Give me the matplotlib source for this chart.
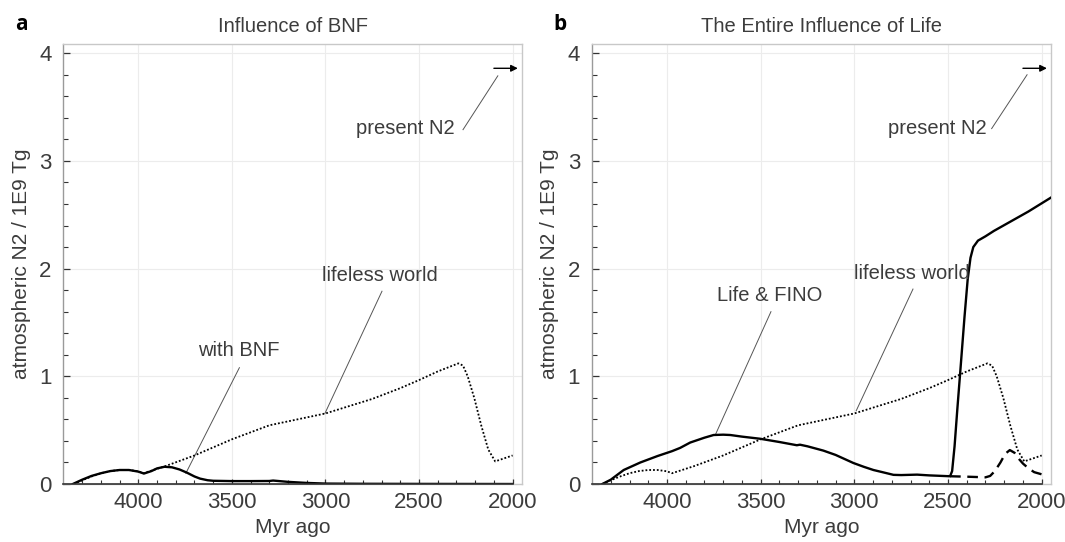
import matplotlib
matplotlib.use("Agg")
import matplotlib.pyplot as plt
from matplotlib.ticker import MultipleLocator, FixedLocator

plt.rcParams['font.family'] = ['Liberation Sans', 'DejaVu Sans']

TXT = '#3c3c3c'

# ---------------- data ----------------
# lifeless world (dotted), both panels
lifeless_x = [4345, 4300, 4250, 4200, 4150, 4100, 4050, 4000, 3973, 3857, 3700, 3500,
              3300, 3000, 2750, 2600, 2500, 2400, 2290, 2265, 2240, 2205, 2167, 2130,
              2093, 2000]
lifeless_y = [0.0, 0.035, 0.07, 0.10, 0.12, 0.13, 0.13, 0.118, 0.10, 0.165, 0.265, 0.415,
              0.545, 0.655, 0.79, 0.89, 0.965, 1.045, 1.12, 1.10, 1.0, 0.80, 0.54, 0.32,
              0.21, 0.265]

# panel a: with BNF (solid)
bnf_x = [4350, 4300, 4250, 4200, 4150, 4100, 4050, 4000, 3970, 3930, 3900, 3860, 3820,
         3780, 3740, 3700, 3670, 3630, 3600, 3500, 3400, 3300, 3280, 3200, 3100, 3000,
         2800, 2500, 2000]
bnf_y = [0.0, 0.04, 0.075, 0.10, 0.12, 0.13, 0.13, 0.115, 0.097, 0.12, 0.145, 0.16, 0.155,
         0.135, 0.105, 0.07, 0.05, 0.035, 0.03, 0.027, 0.027, 0.028, 0.032, 0.02, 0.01,
         0.004, 0.002, 0.001, 0.0]

# panel b: Life & FINO (solid)
fino_x = [4345, 4300, 4231, 4142, 4050, 3973, 3930, 3876, 3800, 3751, 3700, 3662, 3600,
          3502, 3400, 3307, 3290, 3250, 3165, 3100, 3005, 2950, 2898, 2850, 2791, 2750,
          2665, 2600, 2489, 2478, 2465, 2450, 2432, 2412, 2395, 2380, 2365, 2340, 2300,
          2255, 2163, 2071, 1950]
fino_y = [0.0, 0.04, 0.13, 0.20, 0.26, 0.305, 0.335, 0.385, 0.43, 0.455, 0.458, 0.455,
          0.44, 0.42, 0.39, 0.36, 0.365, 0.35, 0.31, 0.27, 0.195, 0.16, 0.13, 0.11, 0.085,
          0.083, 0.087, 0.08, 0.072, 0.12, 0.35, 0.70, 1.10, 1.55, 1.90, 2.10, 2.20, 2.26,
          2.30, 2.35, 2.44, 2.53, 2.66]

# panel b: dashed branch
dash_x = [2489, 2400, 2300, 2275, 2250, 2220, 2195, 2170, 2145, 2120, 2100, 2070, 2040, 2000]
dash_y = [0.072, 0.068, 0.062, 0.075, 0.12, 0.20, 0.28, 0.315, 0.29, 0.23, 0.19, 0.145,
          0.11, 0.09]

present_n2 = 3.86

xticks = [4000, 3500, 3000, 2500, 2000]
yticks = [0, 1, 2, 3, 4]

fig = plt.figure(figsize=(10.65, 5.42), dpi=100)
ax_a = fig.add_axes([0.0596, 0.107, 0.4305, 0.8127])
ax_b = fig.add_axes([0.5559, 0.107, 0.4310, 0.8127])


def style(ax, title):
    ax.set_xlim(4400, 1950)
    ax.set_ylim(0, 4.09)
    ax.xaxis.set_major_locator(FixedLocator(xticks))
    ax.xaxis.set_minor_locator(FixedLocator(list(range(4300, 1999, -100))))
    ax.yaxis.set_major_locator(FixedLocator(yticks))
    ax.yaxis.set_minor_locator(MultipleLocator(0.2))
    ax.grid(True, which='major', color='#ececec', lw=0.8, zorder=0)
    ax.set_axisbelow(True)
    ax.tick_params(axis='both', which='both', direction='in', colors='#333333',
                   labelcolor=TXT, labelsize=16, top=False, right=False)
    ax.tick_params(axis='x', which='major', length=3.6, width=0.9, pad=5.5)
    ax.tick_params(axis='x', which='minor', length=3.0, width=0.8)
    ax.tick_params(axis='y', which='major', length=5.0, width=0.9, pad=8.5)
    ax.tick_params(axis='y', which='minor', length=3.6, width=0.8)
    for s in ax.spines.values():
        s.set_color('#c8c8c8')
        s.set_linewidth(1.0)
    ax.spines['left'].set_color('#9a9a9a')
    ax.axhline(0, xmin=0, xmax=(4400 - 2000) / (4400 - 1950), color='#333333',
               lw=1.2, clip_on=False, zorder=4)
    ax.set_xlabel('Myr ago', fontsize=15, color=TXT)
    ax.xaxis.set_label_coords(0.5, -0.078)
    ax.set_ylabel('atmospheric N2 / 1E9 Tg', fontsize=15, color=TXT)
    ax.yaxis.set_label_coords(-0.071, 0.5)
    ax.set_title(title, fontsize=14.5, color=TXT, y=1.0268, pad=0)
    # present N2 arrow
    ax.annotate('', xy=(1972, present_n2), xytext=(2100, present_n2),
                arrowprops=dict(arrowstyle='-|>', color='black', lw=1.0,
                                mutation_scale=10, shrinkA=0, shrinkB=0))


def label(ax, text, tx, ty, lx0, ly0, lx1, ly1, ha='center'):
    ax.text(tx, ty, text, ha=ha, va='center', fontsize=14.5, color=TXT)
    ax.plot([lx0, lx1], [ly0, ly1], color='#555555', lw=0.7, zorder=2)


DOT = (0, (1, 1.1))

# panel a
style(ax_a, 'Influence of BNF')
ax_a.plot(lifeless_x, lifeless_y, color='black', lw=1.3, ls=DOT, zorder=3)
ax_a.plot(bnf_x, bnf_y, color='black', lw=1.7, zorder=3)
label(ax_a, 'present N2', 2312, 3.30, 2265, 3.29, 2079, 3.79, ha='right')
label(ax_a, 'lifeless world', 2708, 1.94, 2698, 1.79, 3003, 0.655)
label(ax_a, 'with BNF', 3462, 1.24, 3460, 1.08, 3746, 0.10)

# panel b
style(ax_b, 'The Entire Influence of Life')
ax_b.plot(lifeless_x, lifeless_y, color='black', lw=1.3, ls=DOT, zorder=3)
ax_b.plot(dash_x, dash_y, color='black', lw=1.7, ls=(0, (4.5, 2.8)), zorder=3)
ax_b.plot(fino_x, fino_y, color='black', lw=1.7, zorder=3)
label(ax_b, 'present N2', 2292, 3.30, 2267, 3.30, 2078, 3.80, ha='right')
label(ax_b, 'Life & FINO', 3453, 1.75, 3445, 1.60, 3741, 0.46)
label(ax_b, 'lifeless world', 2695, 1.95, 2687, 1.81, 2990, 0.68)

fig.text(15.5 / 1065, 1 - 30 / 542, 'a', fontsize=15, fontweight='bold',
         family=['Open Sans', 'DejaVu Sans'], va='baseline', ha='left', color='black')
fig.text(553.5 / 1065, 1 - 30 / 542, 'b', fontsize=15, fontweight='bold',
         family=['Open Sans', 'DejaVu Sans'], va='baseline', ha='left', color='black')

fig.savefig('out.png', dpi=100)
